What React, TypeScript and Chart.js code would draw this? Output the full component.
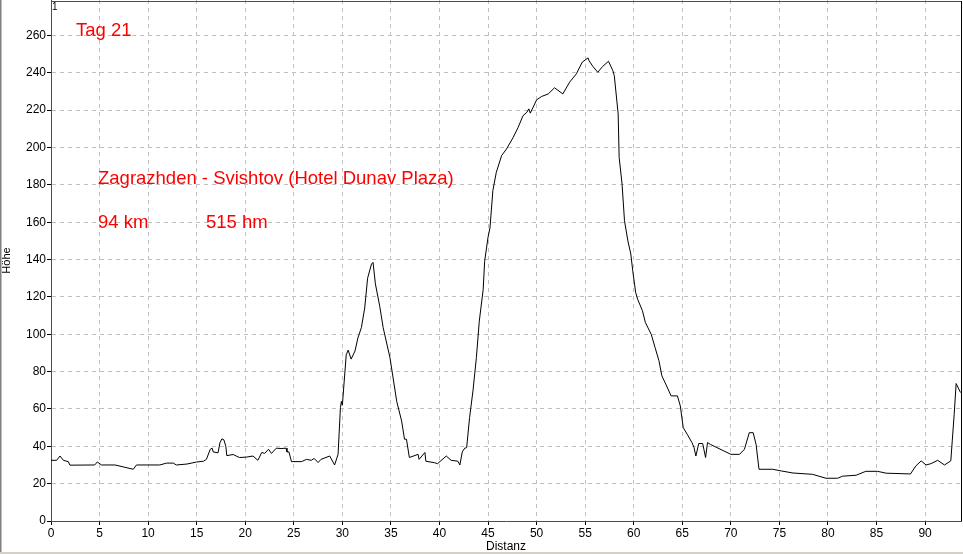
import React, { useEffect, useRef } from "react";
import { Chart, registerables } from "chart.js";

Chart.register(...registerables);

const distanceKm: number[] = [
  0, 0.58, 0.93, 1.27, 1.78, 1.95, 4.5, 4.77, 5.2, 6.6, 8.47, 8.8, 11.2, 11.9, 12.6, 12.9, 14.0, 15.0, 15.7, 16.0,
  16.4, 16.6, 16.7, 17.2, 17.4, 17.6, 17.8, 18.0, 18.1, 18.75, 19.4, 20.1, 20.8, 21.3, 21.7, 22.0, 22.4, 22.7, 23.2,
  23.7, 24.2, 24.3, 24.5, 24.76, 25.8, 26.3, 26.8, 27.1, 27.5, 27.8, 28.7, 29.2, 29.56, 29.8, 29.9, 30.0, 30.4, 30.6,
  30.9, 31.3, 31.6, 31.96, 32.3, 32.6, 33.0, 33.16, 33.4, 33.85, 34.2, 34.9, 35.6, 36.1, 36.4, 36.6, 36.9, 37.8, 37.9,
  38.5, 38.6, 39.5, 39.8, 40.7, 41.2, 41.9, 42.1, 42.35, 42.6, 42.8, 43.1, 43.45, 43.8, 44.1, 44.5, 44.65, 45.0, 45.2,
  45.5, 45.85, 46.4, 46.9, 47.6, 48.1, 48.6, 49.0, 49.2, 49.35, 50.0, 50.5, 51.2, 51.85, 52.7, 53.4, 54.1, 54.7, 55.3,
  55.4, 55.8, 56.3, 56.8, 57.4, 57.85, 58.0, 58.4, 58.5, 58.8, 59.05, 59.4, 59.7, 59.9, 60.2, 60.4, 60.9, 61.2, 61.8,
  62.2, 62.6, 62.9, 63.3, 63.85, 64.5, 64.8, 65.1, 65.5, 66.0, 66.2, 66.4, 66.7, 67.1, 67.4, 67.6, 67.9, 70.0, 70.9,
  71.4, 71.9, 72.3, 72.6, 72.9, 74.3, 75.2, 76.4, 78.4, 79.8, 81.0, 81.5, 82.9, 83.9, 85.1, 86.0, 88.5, 89.05, 89.6,
  90.1, 90.6, 91.3, 92.0, 92.65, 92.8, 93.0, 93.2, 93.65,
];

const heightM: number[] = [
  32.5, 32.5, 34.8, 32.5, 31.8, 29.9, 30, 31.6, 30, 30, 27.7, 30, 30, 31, 31, 30, 30.5, 31.6, 32, 33,
  38.4, 39, 37, 36.5, 42, 44, 43.5, 40, 35, 35.6, 34, 34.2, 34.8, 32.5, 36.7, 36.2, 38.4, 36.2, 39,
  38.8, 39, 37, 37, 31.8, 31.8, 33, 32.5, 33.5, 31.3, 33, 34.8, 30, 35.7, 60.7, 64, 62, 89, 91.5,
  86.7, 91, 98, 103.6, 114, 130, 137.6, 138.5, 127, 115, 103.6, 87.5, 64, 53.6, 43.8, 43.8, 34, 35.7, 33,
  36.7, 32, 31.2, 30.7, 34.8, 32.5, 32, 30, 37, 39, 39.3, 55.4, 69.7, 87.5, 107, 124, 139, 152, 157,
  177, 186.7, 195.7, 199.2, 205.5, 210.8, 217, 218.9, 220.7, 218.4, 225.5, 227.3, 228.7, 232, 228.7, 235, 239.5, 245.7, 248,
  246.5, 243.4, 240.3, 243.4, 246.2, 241.2, 238.5, 218, 194.7, 180.5, 160.8, 150, 143, 134, 122.4, 118.8, 112.6, 106.3, 100,
  92.9, 85.8, 77.7, 73.3, 67, 67, 61.6, 50, 46.5, 42, 39.5, 34.8, 41.5, 41.5, 34, 42, 41, 35.7, 35.7,
  38.4, 47.3, 47.3, 41, 27.7, 27.7, 26.8, 25.7, 25, 22.9, 22.9, 24, 24.5, 26.6, 26.6, 25.6, 25.2, 29.5, 32.2,
  30, 30.7, 32.5, 30, 32.2, 42.9, 57.2, 73.6, 68.8,
];

const xTicks: number[] = [0, 5, 10, 15, 20, 25, 30, 35, 40, 45, 50, 55, 60, 65, 70, 75, 80, 85, 90];
const yTicks: number[] = [0, 20, 40, 60, 80, 100, 120, 140, 160, 180, 200, 220, 240, 260];

const xMax = 93.7;
const yMax = 279;

const titleDay = "Tag 21";
const titleRoute = "Zagrazhden - Svishtov (Hotel Dunav Plaza)";
const titleDistance = "94 km";
const titleClimb = "515 hm";

const FONT = "'Liberation Sans', Arial, sans-serif";

const framePlugin = {
  id: "frame",
  beforeDraw(chart: any) {
    const { ctx, width, height } = chart;
    ctx.save();
    ctx.fillStyle = "#ffffff";
    ctx.fillRect(0, 0, width, height);
    ctx.restore();
  },
  afterDraw(chart: any) {
    const { ctx, chartArea, width, height } = chart;
    ctx.save();
    ctx.fillStyle = "#808080";
    ctx.fillRect(0, 0, 1.5, height);
    ctx.fillStyle = "#d4d0c8";
    ctx.fillRect(0, height - 2, width, 2);
    ctx.fillStyle = "#ff0000";
    ctx.fillRect(chartArea.left, 1, chartArea.right - chartArea.left, 1);
    ctx.fillStyle = "#000000";
    ctx.fillRect(chartArea.right, 1, 1, chartArea.bottom - 1);
    ctx.font = `10px ${FONT}`;
    ctx.textBaseline = "top";
    ctx.textAlign = "left";
    ctx.fillText("1", chartArea.left + 1, 2);
    ctx.fillStyle = "#ff0000";
    ctx.font = `18.5px ${FONT}`;
    ctx.textBaseline = "alphabetic";
    ctx.fillText(titleDay, 76, 36);
    ctx.fillText(titleRoute, 98, 184);
    ctx.fillText(titleDistance, 98, 228);
    ctx.fillText(titleClimb, 206, 228);
    ctx.restore();
  },
};

export default function App() {
  const canvasRef = useRef<HTMLCanvasElement | null>(null);

  useEffect(() => {
    document.body.style.margin = "0";
    const canvas = canvasRef.current;
    if (!canvas) return;
    const points = distanceKm.map((x, i) => ({ x, y: heightM[i] }));
    const chart = new Chart(canvas, {
      type: "line",
      data: {
        datasets: [
          {
            data: points,
            borderColor: "#000000",
            borderWidth: 1,
            pointRadius: 0,
            tension: 0,
            fill: false,
          },
        ],
      },
      options: {
        animation: false,
        responsive: false,
        devicePixelRatio: 1,
        events: [],
        layout: { padding: { top: 0, right: 2, left: 0, bottom: 0 } },
        plugins: { legend: { display: false }, tooltip: { enabled: false } },
        scales: {
          x: {
            type: "linear",
            min: 0,
            max: xMax,
            afterBuildTicks: (axis: any) => {
              axis.ticks = xTicks.map((value) => ({ value }));
            },
            afterFit: (axis: any) => {
              axis.height = 33;
              axis.paddingLeft = 0;
              axis.paddingRight = 0;
            },
            ticks: {
              color: "#000000",
              padding: 1,
              maxRotation: 0,
              autoSkip: false,
              font: { family: FONT, size: 12 },
            },
            grid: {
              color: "#c0c0c0",
              lineWidth: 1,
              tickLength: 4,
              tickColor: "#000000",
              tickBorderDash: [],
            },
            border: { color: "#ff0000", width: 1, dash: [4, 4] },
            title: {
              display: true,
              text: "Distanz",
              color: "#000000",
              padding: { top: 0, bottom: 0 },
              font: { family: FONT, size: 12 },
            },
          },
          y: {
            type: "linear",
            min: 0,
            max: yMax,
            afterBuildTicks: (axis: any) => {
              axis.ticks = yTicks.map((value) => ({ value }));
            },
            afterFit: (axis: any) => {
              axis.width = 51;
              axis.paddingTop = 0;
              axis.paddingBottom = 0;
            },
            ticks: {
              color: "#000000",
              padding: 1,
              autoSkip: false,
              font: { family: FONT, size: 12 },
            },
            grid: {
              color: "#c0c0c0",
              lineWidth: 1,
              tickLength: 4,
              tickColor: "#000000",
              tickBorderDash: [],
            },
            border: { color: "#ff0000", width: 1, dash: [4, 4] },
            title: {
              display: true,
              text: "Höhe",
              color: "#000000",
              padding: { top: 0, bottom: 0 },
              font: { family: FONT, size: 11 },
            },
          },
        },
      },
      plugins: [framePlugin],
    } as any);
    return () => chart.destroy();
  }, []);

  return (
    <div style={{ width: 963, height: 554 }}>
      <canvas ref={canvasRef} width={963} height={554} style={{ display: "block" }} />
    </div>
  );
}
